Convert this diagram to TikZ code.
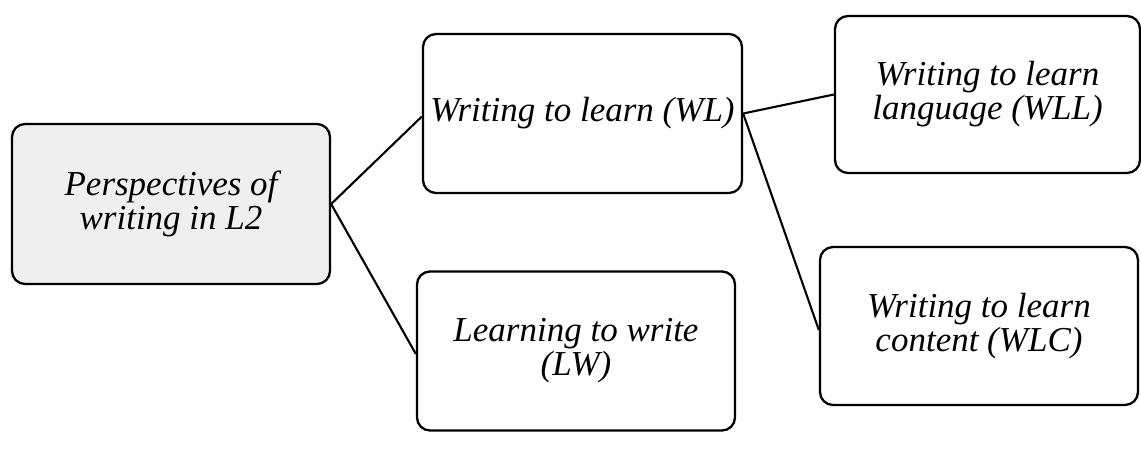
\documentclass[tikz,border=0pt]{standalone}
\usepackage{fontspec}
\setmainfont{Liberation Serif}
\begin{document}
\begin{tikzpicture}[x=1pt,y=-1pt,
  box/.style={draw=black, line width=2.3pt, rounded corners=13pt, fill=white,
    inner sep=0pt, align=center, font=\fontsize{35}{34}\selectfont\itshape},
  link/.style={draw=black, line width=2.1pt}]
\useasboundingbox (0,0) rectangle (1141,451);
\node[box, fill={rgb,255:red,239;green,239;blue,239}, minimum width=318pt, minimum height=160pt] (root) at (171,204) {Perspectives of\\writing in L2};
\node[box, minimum width=319pt, minimum height=159pt] (wl) at (582.5,113.5) {Writing to learn (WL)};
\node[box, minimum width=318pt, minimum height=159pt] (lw) at (576,351) {Learning to write\\(LW)};
\node[box, minimum width=305pt, minimum height=157pt] (wll) at (987.5,94.5) {Writing to learn\\language (WLL)};
\node[box, minimum width=318pt, minimum height=158pt] (wlc) at (979,326) {Writing to learn\\content (WLC)};
\draw[link] (root.east) -- ([yshift=-3pt]wl.west);
\draw[link] (root.east) -- ([yshift=-3pt]lw.west);
\draw[link] (wl.east) -- (wll.west);
\draw[link] (wl.east) -- ([yshift=-4pt]wlc.west);
\end{tikzpicture}
\end{document}
